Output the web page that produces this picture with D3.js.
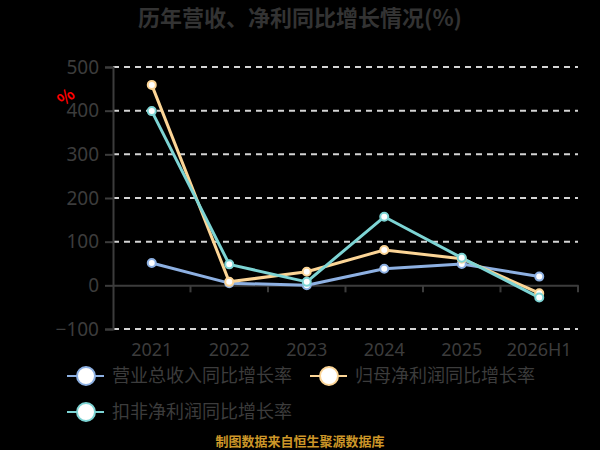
<!DOCTYPE html>
<html>
<head>
<meta charset="utf-8">
<script src="https://cdn.jsdelivr.net/npm/d3@7"></script>
<style>
  html, body { margin: 0; padding: 0; background: #000; }
  svg { display: block; font-family: "Noto Sans CJK SC", "Noto Sans", sans-serif; }
</style>
</head>
<body>
<div id="chart"></div>
<script>
// chart data
const years = ["2021", "2022", "2023", "2024", "2025", "2026H1"];
const revenueGrowth = [51, 5, 0, 38, 49, 20];
const netProfitGrowth = [459, 8, 31, 81, 61, -18];
const deductedProfitGrowth = [399, 48, 8, 157, 63, -28];
const yTicks = [-100, 0, 100, 200, 300, 400, 500];

const seriesNames = ["营业总收入同比增长率", "归母净利润同比增长率", "扣非净利润同比增长率"];
const seriesColors = ["#8db0e2", "#fcd596", "#7dd4d4"];
const seriesValues = [revenueGrowth, netProfitGrowth, deductedProfitGrowth];

const width = 600, height = 450;
const plotLeft = 113, plotRight = 578, plotTop = 67, plotBottom = 329;
const textColor = "#3c3c3c";

const svg = d3.select("#chart")
  .append("svg")
  .attr("width", width)
  .attr("height", height);

// title
svg.append("text")
  .attr("x", 300)
  .attr("y", 26)
  .attr("text-anchor", "middle")
  .attr("font-size", 22)
  .attr("font-weight", "bold")
  .attr("fill", "#333")
  .text("历年营收、净利同比增长情况(%)");

const x = d3.scaleBand().domain(years).range([plotLeft, plotRight]);
const y = d3.scaleLinear().domain([-100, 500]).range([plotBottom, plotTop]);

// dashed grid lines
svg.append("g")
  .selectAll("line")
  .data(yTicks.filter(d => d !== 0))
  .enter()
  .append("line")
  .attr("x1", plotLeft)
  .attr("x2", plotRight)
  .attr("y1", d => y(d))
  .attr("y2", d => y(d))
  .attr("stroke", "#d4d4d4")
  .attr("stroke-width", 2)
  .attr("stroke-dasharray", "6,5");

// y axis
const yAxis = svg.append("g")
  .attr("transform", `translate(${plotLeft},0)`)
  .call(d3.axisLeft(y).tickValues(yTicks).tickSize(8).tickPadding(6));
yAxis.select(".domain").attr("stroke", textColor).attr("stroke-width", 2);
yAxis.selectAll(".tick line").attr("stroke", textColor).attr("stroke-width", 2);
yAxis.selectAll("text").attr("font-size", 19).attr("fill", textColor)
  .attr("font-family", "'Noto Sans', sans-serif");

// x axis on the zero line
const xAxis = svg.append("g")
  .attr("transform", `translate(0,${y(0)})`)
  .call(d3.axisBottom(x).tickSize(0).tickFormat(""));
xAxis.select(".domain").attr("stroke", textColor).attr("stroke-width", 2);

// category tick marks at band edges
svg.append("g")
  .selectAll("line")
  .data(years)
  .enter()
  .append("line")
  .attr("x1", d => x(d) + x.bandwidth())
  .attr("x2", d => x(d) + x.bandwidth())
  .attr("y1", y(0))
  .attr("y2", y(0) + 7)
  .attr("stroke", textColor)
  .attr("stroke-width", 2);

// category labels below the plot
svg.append("g")
  .selectAll("text")
  .data(years)
  .enter()
  .append("text")
  .attr("x", d => x(d) + x.bandwidth() / 2)
  .attr("y", 350)
  .attr("dy", "0.35em")
  .attr("text-anchor", "middle")
  .attr("font-size", 18)
  .attr("fill", textColor)
  .attr("font-family", "'Noto Sans', sans-serif")
  .text(d => d);

// unit label
svg.append("text")
  .attr("transform", "translate(66,97) rotate(-40)")
  .attr("text-anchor", "middle")
  .attr("dy", "0.35em")
  .attr("font-size", 17)
  .attr("font-weight", "bold")
  .attr("fill", "#ff0000")
  .text("%");

// lines and points
const line = d3.line()
  .x((d, i) => x(years[i]) + x.bandwidth() / 2)
  .y(d => y(d));

seriesValues.forEach((vals, s) => {
  svg.append("path")
    .datum(vals)
    .attr("d", line)
    .attr("fill", "none")
    .attr("stroke", seriesColors[s])
    .attr("stroke-width", 3)
    .attr("stroke-linejoin", "round");
});

seriesValues.forEach((vals, s) => {
  svg.append("g")
    .selectAll("circle")
    .data(vals)
    .enter()
    .append("circle")
    .attr("cx", (d, i) => x(years[i]) + x.bandwidth() / 2)
    .attr("cy", d => y(d))
    .attr("r", 4)
    .attr("fill", "#fff")
    .attr("stroke", seriesColors[s])
    .attr("stroke-width", 2);
});

// legend
const legendPos = [[67, 376], [310, 376], [67, 412]];
const legend = svg.append("g")
  .selectAll("g")
  .data(seriesNames)
  .enter()
  .append("g")
  .attr("transform", (d, i) => `translate(${legendPos[i][0]},${legendPos[i][1]})`);

legend.append("line")
  .attr("x1", 0)
  .attr("x2", 37)
  .attr("stroke", (d, i) => seriesColors[i])
  .attr("stroke-width", 2);
legend.append("circle")
  .attr("cx", 19)
  .attr("r", 9)
  .attr("fill", "#fff")
  .attr("stroke", (d, i) => seriesColors[i])
  .attr("stroke-width", 2);
legend.append("text")
  .attr("x", 45)
  .attr("dy", "0.35em")
  .attr("font-size", 18)
  .attr("fill", textColor)
  .text(d => d);

// source note
svg.append("text")
  .attr("x", 300)
  .attr("y", 446)
  .attr("text-anchor", "middle")
  .attr("font-size", 13)
  .attr("font-weight", "bold")
  .attr("fill", "#cc9628")
  .text("制图数据来自恒生聚源数据库");
</script>
</body>
</html>
